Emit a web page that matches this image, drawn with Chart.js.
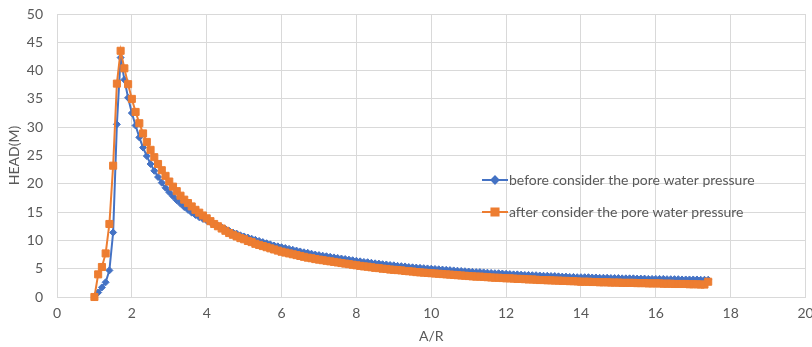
<!DOCTYPE html>
<html>
<head>
<meta charset="utf-8">
<script src="https://cdn.jsdelivr.net/npm/chart.js@4"></script>
<style>
  html, body { margin: 0; padding: 0; background: #fff; }
  #wrap { width: 812px; height: 347px; }
</style>
</head>
<body>
<div id="wrap"><canvas id="chart" width="812" height="347"></canvas></div>
<script>
// A/R values (x)
const ratio = [
  1.0,1.1,1.2,1.3,1.4,1.5,1.6,1.7,1.8,1.9,
  2.0,2.1,2.2,2.3,2.4,2.5,2.6,2.7,2.8,2.9,
  3.0,3.1,3.2,3.3,3.4,3.5,3.6,3.7,3.8,3.9,
  4.0,4.1,4.2,4.3,4.4,4.5,4.6,4.7,4.8,4.9,
  5.0,5.1,5.2,5.3,5.4,5.5,5.6,5.7,5.8,5.9,
  6.0,6.1,6.2,6.3,6.4,6.5,6.6,6.7,6.8,6.9,
  7.0,7.1,7.2,7.3,7.4,7.5,7.6,7.7,7.8,7.9,
  8.0,8.1,8.2,8.3,8.4,8.5,8.6,8.7,8.8,8.9,
  9.0,9.1,9.2,9.3,9.4,9.5,9.6,9.7,9.8,9.9,
  10.0,10.1,10.2,10.3,10.4,10.5,10.6,10.7,10.8,10.9,
  11.0,11.1,11.2,11.3,11.4,11.5,11.6,11.7,11.8,11.9,
  12.0,12.1,12.2,12.3,12.4,12.5,12.6,12.7,12.8,12.9,
  13.0,13.1,13.2,13.3,13.4,13.5,13.6,13.7,13.8,13.9,
  14.0,14.1,14.2,14.3,14.4,14.5,14.6,14.7,14.8,14.9,
  15.0,15.1,15.2,15.3,15.4,15.5,15.6,15.7,15.8,15.9,
  16.0,16.1,16.2,16.3,16.4,16.5,16.6,16.7,16.8,16.9,
  17.0,17.1,17.2,17.3,17.4
];

// HEAD(M) before consider the pore water pressure
const headBefore = [
  0,0.8,1.7,2.6,4.7,11.4,30.5,42.3,38.4,35.2,
  32.5,30.3,28.2,26.4,24.9,23.5,22.3,21.2,20.2,19.3,
  18.5,17.8,17.1,16.5,15.9,15.4,14.9,14.5,14.1,13.8,
  13.5,13.2,12.9,12.6,12.3,12.0,11.7,11.4,11.2,10.9,
  10.7,10.5,10.3,10.1,9.9,9.7,9.5,9.3,9.1,8.95,
  8.8,8.65,8.5,8.35,8.2,8.05,7.9,7.8,7.65,7.5,
  7.4,7.3,7.2,7.1,7.0,6.9,6.8,6.7,6.6,6.5,
  6.4,6.3,6.2,6.15,6.05,5.95,5.9,5.8,5.75,5.65,
  5.6,5.5,5.45,5.4,5.3,5.25,5.2,5.15,5.1,5.05,
  5.0,4.95,4.9,4.85,4.8,4.75,4.7,4.65,4.6,4.55,
  4.5,4.45,4.4,4.4,4.35,4.3,4.25,4.2,4.2,4.15,
  4.1,4.05,4.0,4.0,3.95,3.9,3.9,3.85,3.85,3.8,
  3.75,3.75,3.7,3.7,3.65,3.6,3.6,3.55,3.55,3.5,
  3.5,3.5,3.5,3.45,3.45,3.4,3.4,3.4,3.35,3.35,
  3.35,3.3,3.3,3.3,3.3,3.25,3.25,3.25,3.2,3.2,
  3.2,3.2,3.2,3.15,3.15,3.15,3.15,3.1,3.1,3.1,
  3.1,3.1,3.05,3.05,3.05
];

// HEAD(M) after consider the pore water pressure
const headAfter = [
  0,4.0,5.3,7.7,12.9,23.2,37.7,43.5,40.4,37.6,
  35.0,32.7,30.7,28.9,27.4,26.0,24.7,23.5,22.4,21.4,
  20.4,19.5,18.7,17.9,17.2,16.6,16.0,15.4,14.9,14.4,
  13.9,13.4,12.9,12.5,12.1,11.7,11.3,11.0,10.7,10.4,
  10.2,9.9,9.7,9.4,9.2,9.0,8.8,8.6,8.4,8.2,
  8.0,7.85,7.7,7.55,7.4,7.25,7.1,6.95,6.85,6.7,
  6.6,6.5,6.4,6.3,6.2,6.1,6.0,5.9,5.8,5.7,
  5.6,5.5,5.4,5.35,5.25,5.15,5.1,5.0,4.95,4.85,
  4.8,4.75,4.7,4.6,4.55,4.5,4.4,4.35,4.3,4.25,
  4.2,4.15,4.1,4.05,4.0,3.95,3.9,3.85,3.8,3.75,
  3.7,3.65,3.6,3.6,3.55,3.5,3.45,3.4,3.4,3.35,
  3.3,3.3,3.25,3.2,3.2,3.15,3.1,3.1,3.05,3.0,
  3.0,2.95,2.95,2.9,2.9,2.85,2.85,2.8,2.8,2.75,
  2.7,2.7,2.7,2.65,2.65,2.6,2.6,2.6,2.55,2.55,
  2.55,2.5,2.5,2.5,2.5,2.45,2.45,2.45,2.4,2.4,
  2.4,2.4,2.35,2.35,2.35,2.3,2.3,2.3,2.3,2.25,
  2.25,2.25,2.2,2.2,2.7
];

const seriesNames = ['before consider the pore water pressure', 'after consider the pore water pressure'];
const xTicks = [0, 2, 4, 6, 8, 10, 12, 14, 16, 18, 20];
const yTicks = [0, 5, 10, 15, 20, 25, 30, 35, 40, 45, 50];

const FONT = 'Lato, "Liberation Sans", sans-serif';
const TXT = '#595959';
const GRID = '#d9d9d9';

Chart.defaults.font.family = FONT;
Chart.defaults.font.size = 14;
Chart.defaults.color = TXT;

const toPts = ys => ys.map((y, i) => ({ x: ratio[i], y: y }));

// legend drawn at the right side of the plot, like the excel one
const sideLegend = {
  id: 'sideLegend',
  afterDraw(chart) {
    const ctx = chart.ctx;
    const rows = [180, 212];
    ctx.save();
    chart.data.datasets.forEach((ds, i) => {
      const y = rows[i];
      ctx.strokeStyle = ds.borderColor;
      ctx.lineWidth = 2;
      ctx.beginPath();
      ctx.moveTo(482, y);
      ctx.lineTo(508, y);
      ctx.stroke();
      Chart.helpers.drawPoint(ctx, {
        pointStyle: ds.pointStyle, radius: ds.pointRadius, borderWidth: 1
      }, 495, y);
      ctx.fillStyle = ds.borderColor;
      ctx.fill();
      ctx.fillStyle = TXT;
      ctx.font = '14px ' + FONT;
      ctx.textBaseline = 'middle';
      ctx.textAlign = 'left';
      ctx.fillText(ds.label, 509, y);
    });
    ctx.restore();
  }
};

new Chart(document.getElementById('chart'), {
  type: 'line',
  data: {
    datasets: [
      {
        label: seriesNames[0],
        data: toPts(headBefore),
        borderColor: '#4472C4',
        backgroundColor: '#4472C4',
        borderWidth: 2,
        pointStyle: 'rectRot',
        pointRadius: 3.5,
        pointBorderWidth: 1,
        order: 1,
        clip: false
      },
      {
        label: seriesNames[1],
        data: toPts(headAfter),
        borderColor: '#ED7D31',
        backgroundColor: '#ED7D31',
        borderWidth: 2,
        pointStyle: 'rect',
        pointRadius: 5,
        pointBorderWidth: 1,
        order: 0,
        clip: false
      }
    ]
  },
  options: {
    responsive: false,
    animation: false,
    layout: { padding: { top: 14, right: 6.5, left: 0, bottom: 0 } },
    plugins: {
      legend: { display: false },
      tooltip: { enabled: false }
    },
    scales: {
      x: {
        type: 'linear',
        min: 0,
        max: 20,
        afterBuildTicks: s => { s.ticks = xTicks.map(v => ({ value: v })); },
        afterFit: s => { s.height = 50; s.paddingLeft = 0; s.paddingRight = 0; },
        grid: { color: GRID, drawTicks: false },
        border: { color: GRID },
        ticks: { padding: 8, color: TXT },
        title: { display: true, text: 'A/R', color: TXT, padding: { top: 0, bottom: 2 } }
      },
      y: {
        min: 0,
        max: 50,
        afterBuildTicks: s => { s.ticks = yTicks.map(v => ({ value: v })); },
        afterFit: s => { s.width = 57; s.paddingTop = 0; s.paddingBottom = 0; },
        grid: { color: GRID, drawTicks: false },
        border: { color: GRID },
        ticks: { padding: 14, color: TXT },
        title: { display: true, text: 'HEAD(M)', color: TXT, padding: { top: 6, bottom: 0 } }
      }
    }
  },
  plugins: [sideLegend]
});
</script>
</body>
</html>
